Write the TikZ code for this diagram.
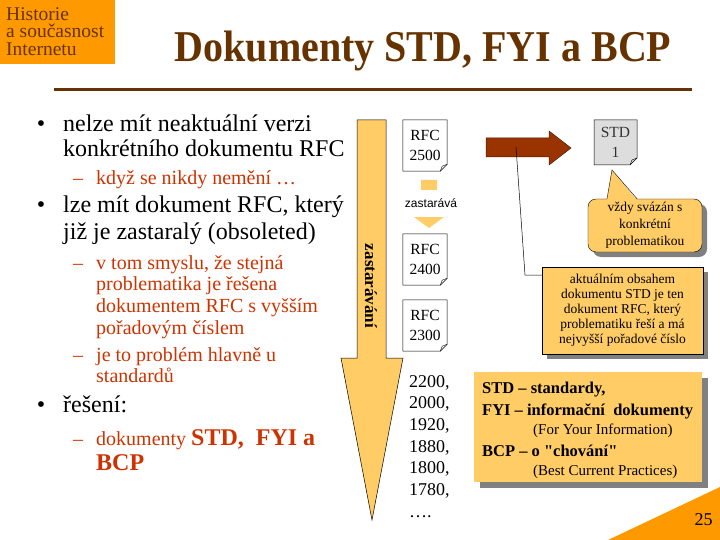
\documentclass[tikz,border=0pt]{standalone}
\usepackage{fontspec}
\setmainfont{Liberation Serif}
\setsansfont{Liberation Sans}
\usetikzlibrary{calc, shadows}

\definecolor{slideorange}{HTML}{FF9900}
\definecolor{lightorange}{HTML}{FFCC66}
\definecolor{titlebrown}{HTML}{663300}
\definecolor{arrowbrown}{HTML}{993300}
\definecolor{subred}{HTML}{CC3300}
\definecolor{docgray}{HTML}{DDDDDD}
\definecolor{shadowgray}{HTML}{808080}

\tikzset{
  line/.style={anchor=base west, inner sep=0pt},
  mainline/.style={line, font=\fontsize{24}{24}\selectfont},
  subline/.style={line, text=subred, font=\fontsize{20}{20}\selectfont},
  yearline/.style={line, font=\fontsize{18}{18}\selectfont},
  legendline/.style={line, font=\fontsize{16.5}{16.5}\selectfont\bfseries},
  legendnote/.style={line, font=\fontsize{15}{15}\selectfont},
  doc/.style={minimum width=44pt, minimum height=51pt, inner sep=0pt, align=center,
    font=\fontsize{15.5}{20}\selectfont},
  notebox/.style={fill=lightorange, draw=black, inner sep=0pt, align=center,
    font=\fontsize{13.5}{15}\selectfont,
    drop shadow={shadow xshift=5pt, shadow yshift=-5pt, fill=shadowgray, opacity=1}},
}

\begin{document}
\begin{tikzpicture}[x=1pt, y=-1pt, >=stealth]
  \useasboundingbox (0,0) rectangle (720,540);

  % header
  \fill[slideorange] (0,0) rectangle (115,64);
  \node[line, text=titlebrown, font=\fontsize{19.5}{19.5}\selectfont] (course1) at (6,20.5) {Historie};
  \node[line, text=titlebrown, font=\fontsize{19.5}{19.5}\selectfont] (course2) at (6,38) {a současnost};
  \node[line, text=titlebrown, font=\fontsize{19.5}{19.5}\selectfont] (course3) at (6,55.5) {Internetu};
  \node[anchor=base, inner sep=0pt, text=titlebrown, font=\fontsize{40}{40}\selectfont\bfseries] (title) at (423,62)
    {\scalebox{1}[1.1]{Dokumenty STD, FYI a BCP}};
  \draw[titlebrown, line width=3pt] (54,90) -- (692,90);

  % left column
  \node[anchor=base, inner sep=0pt, font=\fontsize{24}{24}\selectfont] (dot1) at (41,132) {•};
  \node[mainline] (b1a) at (63,132) {nelze mít neaktuální verzi};
  \node[mainline] (b1b) at (63,157) {konkrétního dokumentu RFC};
  \node[subline] (d1) at (73,185) {–};
  \node[subline] (s1) at (96,185) {když se nikdy nemění …};
  \node[anchor=base, inner sep=0pt, font=\fontsize{24}{24}\selectfont] (dot2) at (41,213) {•};
  \node[mainline] (b2a) at (63,213) {lze mít dokument RFC, který};
  \node[mainline] (b2b) at (63,240) {již je zastaralý (obsoleted)};
  \node[subline] (d2) at (73,269) {–};
  \node[subline] (s2a) at (96,269) {v tom smyslu, že stejná};
  \node[subline] (s2b) at (96,290) {problematika je řešena};
  \node[subline] (s2c) at (96,312) {dokumentem RFC s vyšším};
  \node[subline] (s2d) at (96,334) {pořadovým číslem};
  \node[subline] (d3) at (73,361) {–};
  \node[subline] (s3a) at (96,361) {je to problém hlavně u};
  \node[subline] (s3b) at (96,382) {standardů};
  \node[anchor=base, inner sep=0pt, font=\fontsize{24}{24}\selectfont] (dot3) at (41,412) {•};
  \node[mainline] (b3) at (63,412) {řešení:};
  \node[subline] (d4) at (73,445) {–};
  \node[subline] (s4a) at (96,445)
    {dokumenty {\fontsize{24}{24}\selectfont\bfseries STD,~ FYI a}};
  \node[subline, font=\fontsize{24}{24}\selectfont\bfseries] (s4b) at (96,470) {BCP};

  % big arrow
  \filldraw[fill=lightorange, draw=black, line width=0.5pt]
    (357,120) -- (386,120) -- (386,358) -- (403,358) -- (372,520)
    -- (341,358) -- (357,358) -- cycle;
  \node[rotate=-90, inner sep=0pt, font=\fontsize{17}{17}\selectfont\bfseries] (aging) at (371,286) {zastarávání};

  % RFC documents
  \foreach \num/\ypos in {2500/145.5, 2400/259.5, 2300/325.5} {
    \node[doc] (rfc\num) at (425,\ypos) {RFC\\\num};
    \draw[line width=0.5pt] (rfc\num.north west) -- (rfc\num.north east)
      -- ([yshift=7pt]rfc\num.south east) -- ([xshift=-7pt]rfc\num.south east)
      -- (rfc\num.south west) -- cycle;
    \draw[line width=0.4pt] ([yshift=7pt]rfc\num.south east)
      -- ([xshift=-5pt, yshift=5pt]rfc\num.south east) -- ([xshift=-7pt]rfc\num.south east);
  }

  % small arrow between RFC 2500 and RFC 2400
  \fill[lightorange] (421,180) -- (437,180) -- (437,217) -- (444,217) -- (429,228)
    -- (414,217) -- (421,217) -- cycle;
  \node[fill=white, inner xsep=1pt, minimum height=27pt, font=\sffamily\fontsize{12}{12}\selectfont] (obsoletes) at (431,203.5) {zastarává};

  % STD document
  \coordinate (stdnw) at (594,120);
  \coordinate (stdse) at (637,165);
  \filldraw[fill=docgray, line width=0.5pt] (stdnw) -- (stdnw -| stdse) -- ([yshift=7pt]stdse)
    -- ([xshift=-7pt]stdse) -- (stdnw |- stdse) -- cycle;
  \draw[line width=0.4pt] ([yshift=7pt]stdse) -- ([xshift=-5pt, yshift=5pt]stdse) -- ([xshift=-7pt]stdse);
  \node[doc, text=black!80] (std) at ($(stdnw)!0.5!(stdse)$) {STD\\1};

  % brown arrow
  \filldraw[fill=arrowbrown, draw=black!50!arrowbrown, line width=0.5pt]
    (486,138) -- (549,138) -- (549,131) -- (571,148) -- (549,165) -- (549,157)
    -- (486,157) -- cycle;

  % notes
  \node[notebox, rounded corners=8pt, minimum width=114pt, minimum height=53pt,
    font=\fontsize{13.5}{17}\selectfont] (bubble) at (645,225.5)
    {vždy svázán s\\konkrétní\\problematikou};
  \coordinate (pointertip) at (612,170);
  \fill[lightorange] ($(bubble.north)+(-38,1.5)$) -- (pointertip) -- ($(bubble.north)+(-8,1.5)$) -- cycle;
  \draw ($(bubble.north)+(-38,0)$) -- (pointertip) -- ($(bubble.north)+(-8,0)$);

  \node[notebox, minimum width=161pt, minimum height=87pt] (actual) at (622.5,310.5)
    {aktuálním obsahem\\dokumentu STD je ten\\dokument RFC, který\\problematiku řeší a má\\nejvyšší pořadové číslo};
  \coordinate (arrowpt) at (516,147);
  \coordinate (bend) at (525,275);
  \draw[line width=0.5pt] (arrowpt) -- (bend) -- (bend -| actual.west);

  % older RFC numbers
  \foreach \yr/\ypos in {2200/387, 2000/408.5, 1920/430, 1880/452, 1800/473.5, 1780/495} {
    \node[yearline] (y\yr) at (409,\ypos) {\yr,};
  }
  \node[yearline] (ydots) at (409,517) {….};

  % legend
  \node[fill=lightorange, inner sep=0pt, minimum width=228pt, minimum height=110pt,
    drop shadow={shadow xshift=6pt, shadow yshift=-6pt, fill=shadowgray, opacity=1}] (legend) at (588,427) {};
  \node[legendline] (leg1) at (482,393) {STD – standardy,};
  \node[legendline] (leg2) at (482,415) {FYI – informační~ dokumenty};
  \node[legendnote] (leg3) at (533,434) {(For Your Information)};
  \node[legendline] (leg4) at (482,456) {BCP – o \textquotedbl chování\textquotedbl};
  \node[legendnote] (leg5) at (533,475) {(Best Current Practices)};

  % footer
  \fill[slideorange] (608,540) -- (720,487) -- (720,540) -- cycle;
  \node[anchor=base, inner sep=0pt, font=\fontsize{18}{18}\selectfont] (page) at (703.5,525) {25};
\end{tikzpicture}
\end{document}
